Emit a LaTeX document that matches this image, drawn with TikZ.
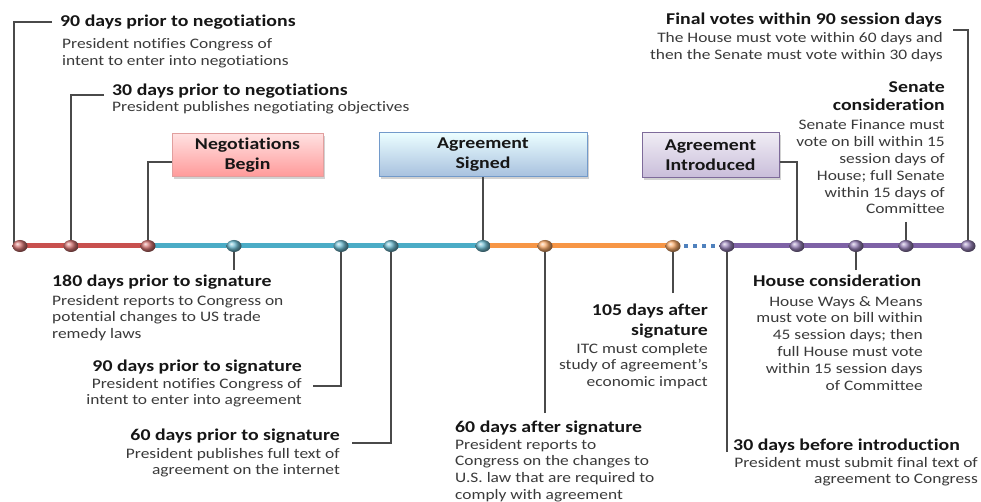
\documentclass[tikz,border=0pt]{standalone}
\usepackage{fontspec}
\setmainfont{Carlito}[FakeStretch=1.2, Ligatures=NoCommon]
\usetikzlibrary{shapes.geometric,shadows}
\definecolor{hdc}{HTML}{161616}
\definecolor{bdc}{HTML}{3A3A3A}
\definecolor{lnc}{HTML}{4A4A4A}
\definecolor{redc}{HTML}{C8504E}
\definecolor{cyanc}{HTML}{4BACC6}
\definecolor{orc}{HTML}{F79646}
\definecolor{purc}{HTML}{7E62A6}
\definecolor{dotblue}{HTML}{4F81BD}
\tikzset{
  hd/.style={font=\fontsize{16.5}{19}\selectfont\bfseries, text=hdc, inner sep=0pt},
  bd/.style={font=\fontsize{14.5}{16.8}\selectfont, text=bdc, inner sep=0pt},
  conn/.style={draw=lnc, line width=1.3pt},
  tl/.style={line width=5pt},
  ball/.style={ellipse, minimum width=15pt, minimum height=12pt, inner sep=0pt, shading=ball, ball color=#1!80!white},
  evbox/.style={draw=#1, line width=1pt, inner sep=0pt, align=center,
     font=\fontsize{16.5}{20}\selectfont\bfseries, text=hdc,
     drop shadow={shadow xshift=2pt, shadow yshift=-2pt, opacity=0.35}},
}
\begin{document}
\begin{tikzpicture}[x=1pt,y=-1pt]
\useasboundingbox (0,0) rectangle (981,502);
\fill[white] (0,0) rectangle (981,502);

% timeline positions
\coordinate (r1) at (20,246);
\coordinate (r2) at (71,246);
\coordinate (r3) at (148,246);
\coordinate (c1) at (234,246);
\coordinate (c2) at (341,246);
\coordinate (c3) at (391,246);
\coordinate (c4) at (483,246);
\coordinate (o1) at (545,246);
\coordinate (o2) at (673,246);
\coordinate (p1) at (727,246);
\coordinate (p2) at (797,246);
\coordinate (p3) at (856,246);
\coordinate (p4) at (906,246);
\coordinate (p5) at (968,246);

% event boxes
\node[evbox=redc!55, top color=red!12, bottom color=red!40!white, minimum width=151pt, minimum height=43pt] (nb) at (247.5,155.5) {Negotiations\\Begin};
\node[evbox=dotblue!80, top color=blue!8!cyan!8, bottom color=dotblue!50!white, minimum width=208pt, minimum height=44pt] (as) at (483,155) {Agreement\\Signed};
\node[evbox=purc!70!gray, top color=purc!12, bottom color=purc!42!white, minimum width=137pt, minimum height=45pt] (ai) at (710.5,155.5) {Agreement\\Introduced};

% top-left texts (base anchor = last line baseline)
\node[hd, anchor=base west] (aH) at (60,27) {90 days prior to negotiations};
\node[bd, align=left, anchor=base west] (aB) at (62,65.5) {President notifies Congress of\\intent to enter into negotiations};
\node[hd, anchor=base west] (bH) at (112,96) {30 days prior to negotiations};
\node[bd, align=left, anchor=base west] (bB) at (112,112) {President publishes negotiating objectives};

% top-right texts
\node[hd, anchor=base east] (fH) at (942,25) {Final votes within 90 session days};
\node[bd, align=right, anchor=base east] (fB) at (943,59.5) {The House must vote within 60 days and\\then the Senate must vote within 30 days};
\node[hd, font=\fontsize{16.5}{18}\selectfont\bfseries, align=right, anchor=base east] (sH) at (945,111) {Senate\\consideration};
\node[bd, align=right, anchor=base east] (sB) at (945,214) {Senate Finance must\\vote on bill within 15\\session days of\\House; full Senate\\within 15 days of\\Committee};

% bottom texts
\node[hd, anchor=base west] (c180H) at (52,287) {180 days prior to signature};
\node[bd, align=left, anchor=base west] (c180B) at (52,338.6) {President reports to Congress on\\potential changes to US trade\\remedy laws};
\node[hd, anchor=base east] (c90H) at (302,371) {90 days prior to signature};
\node[bd, align=right, anchor=base east] (c90B) at (302,404.8) {President notifies Congress of\\intent to enter into agreement};
\node[hd, anchor=base east] (c60H) at (340,440) {60 days prior to signature};
\node[bd, align=right, anchor=base east] (c60B) at (340,474.8) {President publishes full text of\\agreement on the internet};
\node[hd, anchor=base west] (d60H) at (455,432) {60 days after signature};
\node[bd, align=left, anchor=base west] (d60B) at (455,499.5) {President reports to\\Congress on the changes to\\U.S. law that are required to\\comply with agreement};
\node[hd, font=\fontsize{16.5}{20}\selectfont\bfseries, align=right, anchor=base east] (d105H) at (708,335) {105 days after\\signature};
\node[bd, align=right, anchor=base east] (d105B) at (708,386.6) {ITC must complete\\study of agreement’s\\economic impact};
\node[hd, anchor=base west] (hH) at (753,287) {House consideration};
\node[bd, align=right, anchor=base east] (hB) at (923,390) {House Ways \& Means\\must vote on bill within\\45 session days; then\\full House must vote\\within 15 session days\\of Committee};
\node[hd, anchor=base west] (iH) at (733,450) {30 days before introduction};
\node[bd, align=right, anchor=base east] (iB) at (978,483.8) {President must submit final text of\\agreement to Congress};

% connector free ends
\coordinate (aK) at (52,22);
\coordinate (bK) at (104,95);
\coordinate (fK) at (953,30);
\coordinate (sK) at (906,222);
\coordinate (c180K) at (234,270);
\coordinate (c90K) at (313,386);
\coordinate (c60K) at (352,443);
\coordinate (d60K) at (545,413);
\coordinate (d105K) at (673,293);
\coordinate (hK) at (856,270);
\coordinate (iK) at (727,452);

% connectors
\draw[conn] (aK) -| ([xshift=-6pt]r1);
\draw[conn] (bK) -| (r2);
\draw[conn] (nb.west |- 0,162) -| (r3);
\draw[conn] (as.south) -- (c4);
\draw[conn] (ai.east |- 0,162) -| (p2);
\draw[conn] (fK) -| (p5);
\draw[conn] (sK) -- (p4);
\draw[conn] (c180K) -- (c1);
\draw[conn] (c90K) -| (c2);
\draw[conn] (c60K) -| (c3);
\draw[conn] (d60K) -- (o1);
\draw[conn] (d105K) -- (o2);
\draw[conn] (hK) -- (p3);
\draw[conn] (iK) -- (p1);

% timeline
\draw[tl, redc] (r1) -- (r3);
\draw[tl, cyanc] (r3) -- (c4);
\draw[tl, orc] (c4) -- (o2);
\draw[line width=4pt, dotblue, dash pattern=on 4pt off 5pt] ([xshift=11pt]o2) -- ([xshift=-8pt]p1);
\draw[tl, purc] (p1) -- (p5);

% dots
\foreach \n in {r1,r2,r3} \node[ball=redc] (b\n) at (\n) {};
\foreach \n in {c1,c2,c3,c4} \node[ball=cyanc] (b\n) at (\n) {};
\foreach \n in {o1,o2} \node[ball=orc] (b\n) at (\n) {};
\foreach \n in {p1,p2,p3,p4,p5} \node[ball=purc] (b\n) at (\n) {};
\end{tikzpicture}
\end{document}
